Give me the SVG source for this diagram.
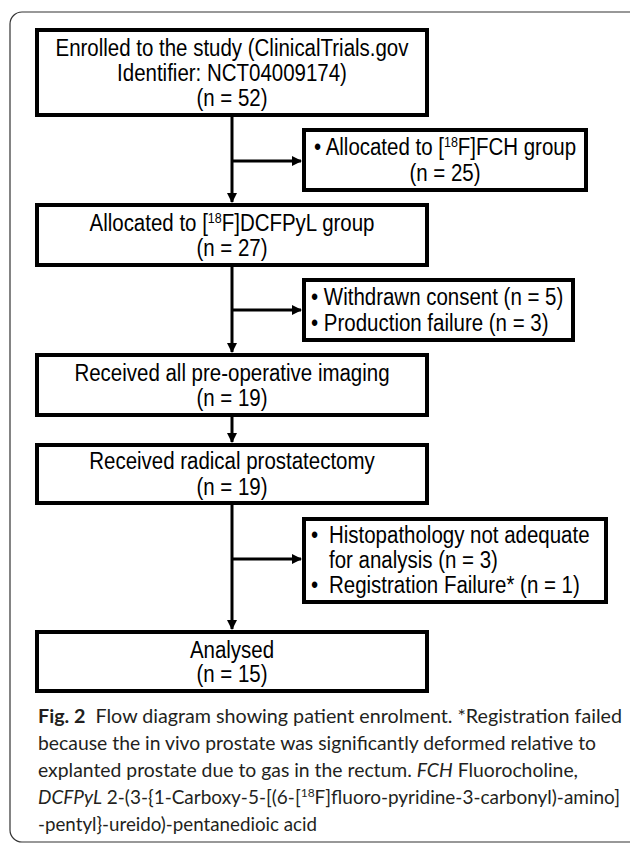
<svg xmlns="http://www.w3.org/2000/svg" width="630" height="843" viewBox="0 0 630 843">
<defs>
<marker id="ah" markerWidth="10" markerHeight="10" refX="9" refY="5" orient="auto" markerUnits="userSpaceOnUse">
<path d="M0,0 L10,5 L0,10 Z" fill="#000"/>
</marker>
<style>
.box{fill:#fff;stroke:#000;stroke-width:4}
.t{font-family:"Liberation Sans",Arial,sans-serif;font-size:23px;fill:#000}
.c{text-anchor:middle}
.sup{font-size:14px}
.con{stroke:#000;stroke-width:3;fill:none}
.cap{font-family:Lato,"Open Sans",sans-serif;font-size:19px;fill:#231f20}
</style>
</defs>
<rect x="10" y="12" width="640" height="830" rx="12" ry="12" fill="#fff" stroke="#333" stroke-width="1.2"/>

<g id="connectors">
<line class="con" x1="232" y1="117" x2="232" y2="202" marker-end="url(#ah)"/>
<line class="con" x1="232" y1="161" x2="301" y2="161" marker-end="url(#ah)"/>
<line class="con" x1="232" y1="267" x2="232" y2="352" marker-end="url(#ah)"/>
<line class="con" x1="232" y1="310" x2="301" y2="310" marker-end="url(#ah)"/>
<line class="con" x1="232" y1="417" x2="232" y2="442" marker-end="url(#ah)"/>
<line class="con" x1="232" y1="505" x2="232" y2="629" marker-end="url(#ah)"/>
<line class="con" x1="232" y1="559" x2="301" y2="559" marker-end="url(#ah)"/>
</g>

<g id="enrolled">
<rect class="box" x="37" y="30" width="390" height="85"/>
<text class="t c" transform="translate(232 56) scale(0.89 1)">Enrolled to the study (ClinicalTrials.gov</text>
<text class="t c" transform="translate(232 81) scale(0.89 1)">Identifier: NCT04009174)</text>
<text class="t c" transform="translate(232 106) scale(0.89 1)">(n = 52)</text>
</g>

<g id="fch">
<rect class="box" x="304" y="130" width="282" height="60"/>
<text class="t c" transform="translate(445 155) scale(0.89 1)">• Allocated to [<tspan class="sup" dy="-8">18</tspan><tspan dy="8">F]FCH group</tspan></text>
<text class="t c" transform="translate(445 181) scale(0.89 1)">(n = 25)</text>
</g>

<g id="dcfpyl">
<rect class="box" x="37" y="205" width="390" height="60"/>
<text class="t c" transform="translate(232 231) scale(0.89 1)">Allocated to [<tspan class="sup" dy="-8">18</tspan><tspan dy="8">F]DCFPyL group</tspan></text>
<text class="t c" transform="translate(232 256) scale(0.89 1)">(n = 27)</text>
</g>

<g id="withdrawn">
<rect class="box" x="304" y="280" width="269" height="60"/>
<text class="t" transform="translate(311 305) scale(0.89 1)">• Withdrawn consent (n = 5)</text>
<text class="t" transform="translate(311 331) scale(0.89 1)">• Production failure (n = 3)</text>
</g>

<g id="preop">
<rect class="box" x="37" y="355" width="390" height="60"/>
<text class="t c" transform="translate(232 381) scale(0.89 1)">Received all pre-operative imaging</text>
<text class="t c" transform="translate(232 406) scale(0.89 1)">(n = 19)</text>
</g>

<g id="radical">
<rect class="box" x="37" y="445" width="390" height="58"/>
<text class="t c" transform="translate(232 469) scale(0.89 1)">Received radical prostatectomy</text>
<text class="t c" transform="translate(232 495) scale(0.89 1)">(n = 19)</text>
</g>

<g id="excluded">
<rect class="box" x="304" y="519" width="302" height="83"/>
<text class="t" transform="translate(311 543) scale(0.89 1)">•</text>
<text class="t" transform="translate(329 543) scale(0.89 1)">Histopathology not adequate</text>
<text class="t" transform="translate(329 568) scale(0.89 1)">for analysis (n = 3)</text>
<text class="t" transform="translate(311 593) scale(0.89 1)">•</text>
<text class="t" transform="translate(329 593) scale(0.89 1)">Registration Failure* (n = 1)</text>
</g>

<g id="analysed">
<rect class="box" x="37" y="632" width="390" height="59"/>
<text class="t c" transform="translate(232 658) scale(0.89 1)">Analysed</text>
<text class="t c" transform="translate(232 682) scale(0.89 1)">(n = 15)</text>
</g>

<g id="caption">
<text class="cap" x="38" y="723" textLength="584" lengthAdjust="spacingAndGlyphs"><tspan font-weight="bold">Fig. 2</tspan>&#160;&#160;Flow diagram showing patient enrolment. *Registration failed</text>
<text class="cap" x="38" y="750" textLength="558" lengthAdjust="spacingAndGlyphs">because the in vivo prostate was significantly deformed relative to</text>
<text class="cap" x="38" y="777" textLength="540" lengthAdjust="spacingAndGlyphs">explanted prostate due to gas in the rectum. <tspan font-style="italic">FCH</tspan> Fluorocholine,</text>
<text class="cap" x="38" y="804" textLength="582" lengthAdjust="spacingAndGlyphs"><tspan font-style="italic">DCFPyL</tspan> 2-(3-{1-Carboxy-5-[(6-[<tspan font-size="12px" dy="-7">18</tspan><tspan dy="7">F]fluoro-pyridine-3-carbonyl)-amino]</tspan></text>
<text class="cap" x="38" y="831" textLength="279" lengthAdjust="spacingAndGlyphs">-pentyl}-ureido)-pentanedioic acid</text>
</g>
</svg>
